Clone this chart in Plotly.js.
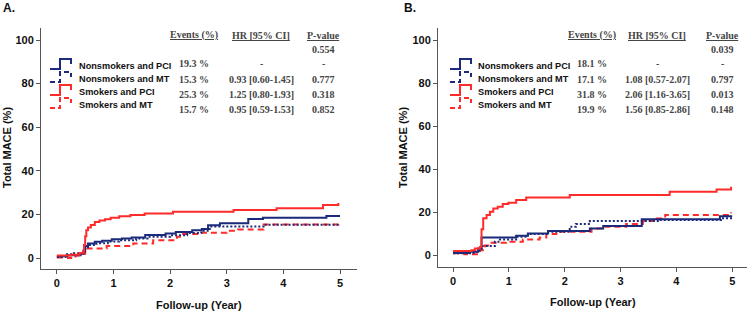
<!DOCTYPE html>
<html>
<head>
<meta charset="utf-8">
<script src="https://cdn.plot.ly/plotly-3.0.1.min.js"></script>
<style>
html,body{margin:0;padding:0;background:#fff;}
#chart{width:750px;height:312px;}
</style>
</head>
<body>
<div id="chart"></div>
<script>
// ---------- DATA ----------
const seriesNames = ["Nonsmokers and PCI", "Nonsmokers and MT", "Smokers and PCI", "Smokers and MT"];

// Panel A
const A_nonPCI_t = [0, 0.18, 0.42, 0.47, 0.5, 0.55, 0.67, 0.8, 0.97, 1.15, 1.32, 1.56, 1.92, 2.1, 2.39, 2.56, 2.67, 2.88, 3.38, 3.64, 4.76, 5.0];
const A_nonPCI_v = [0.8, 1.3, 2, 3.5, 5.5, 6.7, 7.5, 8, 8.6, 9, 9.5, 10.6, 11.3, 12, 12.8, 13.3, 15.1, 16, 17.9, 18.5, 19.3, 19.3];

const A_nonMT_t = [0, 0.15, 0.3, 0.45, 0.5, 0.55, 0.7, 0.9, 1.1, 1.4, 1.6, 2.0, 2.3, 2.55, 2.7, 3.65, 5.0];
const A_nonMT_v = [0.5, 1.8, 2.2, 3, 5, 6, 6.8, 7.6, 8.2, 9, 9.8, 10.5, 11.5, 12.5, 14.5, 15.3, 15.3];

const A_smkPCI_t = [0, 0.25, 0.4, 0.46, 0.48, 0.5, 0.52, 0.55, 0.6, 0.67, 0.75, 0.85, 0.95, 1.1, 1.3, 1.55, 2.05, 3.12, 3.88, 4.7, 4.97];
const A_smkPCI_v = [1.2, 1.5, 2.3, 3, 6, 10, 12.8, 14, 15.2, 16.5, 17.2, 17.8, 18.5, 19.2, 19.8, 20.5, 21.2, 22, 22.8, 24.3, 25.3];

const A_smkMT_t = [0, 0.2, 0.33, 0.45, 0.5, 0.88, 1.35, 1.7, 2.12, 2.2, 2.5, 3.0, 3.2, 3.65, 4.97];
const A_smkMT_v = [0.3, 0, 1.2, 2, 4.4, 5.5, 6.7, 8.2, 9.8, 11, 11.6, 12.5, 13.1, 15.4, 15.7];

// Panel B
const B_nonPCI_t = [0, 0.3, 0.45, 0.51, 1.13, 1.34, 1.7, 2.45, 2.69, 3.38, 4.78, 5.0];
const B_nonPCI_v = [1.0, 1.5, 3.1, 8.2, 9.0, 10, 11.2, 12.4, 13.5, 16.7, 18.1, 18.1];

const B_nonMT_t = [0, 0.35, 0.42, 0.51, 0.75, 0.84, 1.13, 1.34, 1.7, 2.09, 2.2, 2.45, 3.7, 4.8, 5.0];
const B_nonMT_v = [0.8, 1.0, 2, 4.2, 6.2, 7.3, 8.5, 9.8, 10.9, 13.2, 14.4, 15.8, 16.3, 17.1, 17.1];

const B_smkPCI_t = [0, 0.33, 0.39, 0.48, 0.51, 0.54, 0.6, 0.66, 0.72, 0.8, 0.89, 0.99, 1.13, 1.31, 2.09, 3.88, 4.72, 4.98];
const B_smkPCI_v = [1.9, 2.3, 3.1, 3.8, 12, 17.1, 18.6, 20.2, 21.7, 22.5, 23.7, 24.3, 25.6, 26.8, 27.9, 29.5, 30.5, 31.8];

const B_smkMT_t = [0, 0.2, 0.48, 0.57, 0.69, 0.95, 1.25, 1.55, 1.67, 1.85, 2.48, 2.72, 3.1, 3.4, 3.65, 3.8, 4.98];
const B_smkMT_v = [0.9, 0.4, 2.3, 4.5, 5.7, 6.2, 7.3, 8.2, 9.8, 10.9, 12.4, 13.2, 14.4, 15.8, 17, 18.6, 19.9];

// Table values
const tableHeaders = ["Events (%)", "HR [95% CI]", "P-value"];
const A_overallP = "0.554";
const A_events = ["19.3 %", "15.3 %", "25.3 %", "15.7 %"];
const A_hr = ["-", "0.93 [0.60-1.45]", "1.25 [0.80-1.93]", "0.95 [0.59-1.53]"];
const A_p = ["-", "0.777", "0.318", "0.852"];
const B_overallP = "0.039";
const B_events = ["18.1 %", "17.1 %", "31.8 %", "19.9 %"];
const B_hr = ["-", "1.08 [0.57-2.07]", "2.06 [1.16-3.65]", "1.56 [0.85-2.86]"];
const B_p = ["-", "0.797", "0.013", "0.148"];

const xTicks = [0, 1, 2, 3, 4, 5];
const yTicks = [0, 20, 40, 60, 80, 100];

// ---------- STYLE ----------
const W = 750, H = 312;
const NAVY = "#1b2a7a", RED = "#ff2a2a";
const styles = [
  {color: NAVY, dash: "solid"},
  {color: NAVY, dash: "2px,2px"},
  {color: RED, dash: "solid"},
  {color: RED, dash: "6px,4px"}
];
const px = x => x / W;
const py = y => 1 - y / H;

function mk(t, v, i, xa, ya) {
  return {x: t, y: v, type: "scatter", mode: "lines", line: {shape: "hv", width: 2, color: styles[i].color, dash: styles[i].dash},
    xaxis: xa, yaxis: ya, showlegend: false, hoverinfo: "skip"};
}
const data = [
  mk(A_smkMT_t, A_smkMT_v, 3, "x", "y"),
  mk(A_nonMT_t, A_nonMT_v, 1, "x", "y"),
  mk(A_nonPCI_t, A_nonPCI_v, 0, "x", "y"),
  mk(A_smkPCI_t, A_smkPCI_v, 2, "x", "y"),
  mk(B_smkMT_t, B_smkMT_v, 3, "x2", "y2"),
  mk(B_nonMT_t, B_nonMT_v, 1, "x2", "y2"),
  mk(B_nonPCI_t, B_nonPCI_v, 0, "x2", "y2"),
  mk(B_smkPCI_t, B_smkPCI_v, 2, "x2", "y2")
];

const tickFont = {family: "Liberation Sans, Arial, sans-serif", size: 11, color: "#111", weight: "bold"};
function axX(domain, range, anchor) {
  return {domain: domain, range: range, anchor: anchor, tickvals: xTicks, ticktext: xTicks.map(String),
    showline: true, linecolor: "#555", linewidth: 1, ticks: "outside", ticklen: 4, tickcolor: "#555",
    showgrid: false, zeroline: false, tickfont: tickFont, fixedrange: true};
}
function axY(domain, range, anchor) {
  return {domain: domain, range: range, anchor: anchor, tickvals: yTicks, ticktext: yTicks.map(String),
    showline: true, linecolor: "#555", linewidth: 1, ticks: "outside", ticklen: 4, tickcolor: "#555",
    showgrid: false, zeroline: false, tickfont: tickFont, fixedrange: true};
}

const annotations = [];
const shapes = [];
function txt(x, y, s, opts) {
  annotations.push(Object.assign({xref: "paper", yref: "paper", x: px(x), y: py(y), text: s, showarrow: false,
    xanchor: "center", yanchor: "middle"}, opts));
}
const sans = {family: "Liberation Sans, Arial, sans-serif", size: 12, color: "#111", weight: "bold"};
const legFont = {family: "Liberation Sans, Arial, sans-serif", size: 9.2, color: "#111", weight: "bold"};
const serif = {family: "Liberation Serif, Times New Roman, serif", size: 10, color: "#444", weight: "bold"};

function panel(label, labelX, yTitleX, xTitleX, xTitleY, colX, overallP, ev, hr, pv, iconX, labX) {
  txt(labelX, 8, label, {font: Object.assign({}, sans, {size: 12}), xanchor: "left"});
  txt(yTitleX, 148, "Total MACE (%)", {font: Object.assign({}, sans, {size: 11}), textangle: -90});
  txt(xTitleX, xTitleY, "Follow-up (Year)", {font: Object.assign({}, sans, {size: 11})});
  for (let k = 0; k < 3; k++) txt(colX[k], 35, "<u>" + tableHeaders[k] + "</u>", {font: serif});
  txt(colX[2], 50, overallP, {font: serif});
  const rowsY = [64, 79.5, 94, 109];
  const labY = [66, 79, 92, 105];
  for (let r = 0; r < 4; r++) {
    txt(colX[0], rowsY[r], ev[r], {font: serif});
    txt(colX[1], rowsY[r], hr[r], {font: serif});
    txt(colX[2], rowsY[r], pv[r], {font: serif});
    txt(labX, labY[r], seriesNames[r], {font: legFont, xanchor: "left"});
    // legend step icon
    const yb = labY[r] + 3, yt = labY[r] - 7, x0 = iconX, x1 = iconX + 10, x2 = iconX + 21;
    const path = `M${px(x0)},${py(yb)} L${px(x1)},${py(yb)} L${px(x1)},${py(yt)} L${px(x2)},${py(yt)} L${px(x2)},${py(yt + 5)}`;
    shapes.push({type: "path", xref: "paper", yref: "paper", path: path,
      line: {color: styles[r].color, width: 2, dash: r % 2 === 1 ? "5px,3px" : "solid"}});
  }
}
panel("A.", 1, 7, 199, 305, [194, 261, 323], A_overallP, A_events, A_hr, A_p, 50, 77);
panel("B.", 402, 403, 593, 302, [592, 657, 722], B_overallP, B_events, B_hr, B_p, 450, 476);

const layout = {
  width: W, height: H, margin: {l: 0, r: 0, t: 0, b: 0},
  paper_bgcolor: "#fff", plot_bgcolor: "#fff",
  xaxis: axX([px(41), px(357)], [-0.28, 5.3], "y"),
  yaxis: axY([py(269), py(28)], [-5, 105.5], "x"),
  xaxis2: axX([px(438), px(746.7)], [-0.27, 5.26], "y2"),
  yaxis2: axY([py(266.7), py(28)], [-5.4, 105.6], "x2"),
  annotations: annotations, shapes: shapes
};
Plotly.newPlot("chart", data, layout, {displayModeBar: false, staticPlot: true});
</script>
</body>
</html>
